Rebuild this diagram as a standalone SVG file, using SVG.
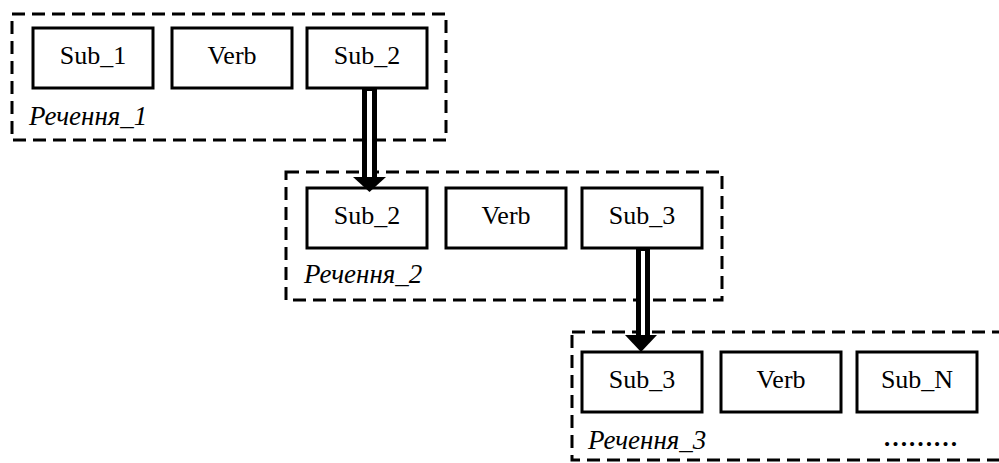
<svg xmlns="http://www.w3.org/2000/svg" width="999" height="463" viewBox="0 0 999 463">
<style>
.frame{fill:none;stroke:#000;stroke-width:3;stroke-dasharray:13 7}
.node{fill:#fff;stroke:#000;stroke-width:3}
.t{font-family:"Liberation Serif","Times New Roman",serif;font-size:26px;text-anchor:middle;fill:#000}
.lbl{font-family:"Liberation Serif","Times New Roman",serif;font-size:27px;font-style:italic;fill:#000}
.dots{font-family:"Liberation Serif","Times New Roman",serif;font-size:25px;font-weight:bold;fill:#000}
</style>
<rect x="0" y="0" width="999" height="463" fill="#fff"/>
<g id="sentence1">
<rect class="frame" x="12" y="14" width="434" height="126"/>
<text class="lbl" x="29" y="125">Речення_1</text>
</g>
<g id="sentence2">
<rect class="frame" x="286" y="172" width="436" height="128"/>
<text class="lbl" x="304" y="283">Речення_2</text>
</g>
<g id="sentence3">
<rect class="frame" x="572" y="332" width="440" height="128"/>
<text class="lbl" x="588" y="449">Речення_3</text>
<text class="dots" x="883" y="446">………</text>
</g>
<g id="n1_sub1"><rect class="node" x="33" y="28" width="120" height="60"/><text class="t" x="93" y="64">Sub_1</text></g>
<g id="n1_verb"><rect class="node" x="172" y="28" width="120" height="60"/><text class="t" x="232" y="64">Verb</text></g>
<g id="n1_sub2"><rect class="node" x="307" y="28" width="120" height="60"/><text class="t" x="367" y="64">Sub_2</text></g>
<g id="n2_sub2"><rect class="node" x="307" y="188" width="120" height="60"/><text class="t" x="367" y="224">Sub_2</text></g>
<g id="n2_verb"><rect class="node" x="446" y="188" width="120" height="60"/><text class="t" x="506" y="224">Verb</text></g>
<g id="n2_sub3"><rect class="node" x="582" y="188" width="120" height="60"/><text class="t" x="642" y="224">Sub_3</text></g>
<g id="n3_sub3"><rect class="node" x="582" y="352" width="120" height="60"/><text class="t" x="642" y="388">Sub_3</text></g>
<g id="n3_verb"><rect class="node" x="721" y="352" width="120" height="60"/><text class="t" x="781" y="388">Verb</text></g>
<g id="n3_subN"><rect class="node" x="857" y="352" width="120" height="60"/><text class="t" x="917" y="388">Sub_N</text></g>
<g id="connectors">
<rect x="362" y="88" width="15" height="90" fill="#000"/>
<rect x="367" y="91" width="5" height="92" fill="#fff"/>
<polygon points="353,177 386,177 369.5,192" fill="#000"/>
<rect x="636" y="248" width="14" height="88" fill="#000"/>
<rect x="641" y="251" width="4" height="90" fill="#fff"/>
<polygon points="625,335 657,335 641,352" fill="#000"/>
</g>
</svg>
